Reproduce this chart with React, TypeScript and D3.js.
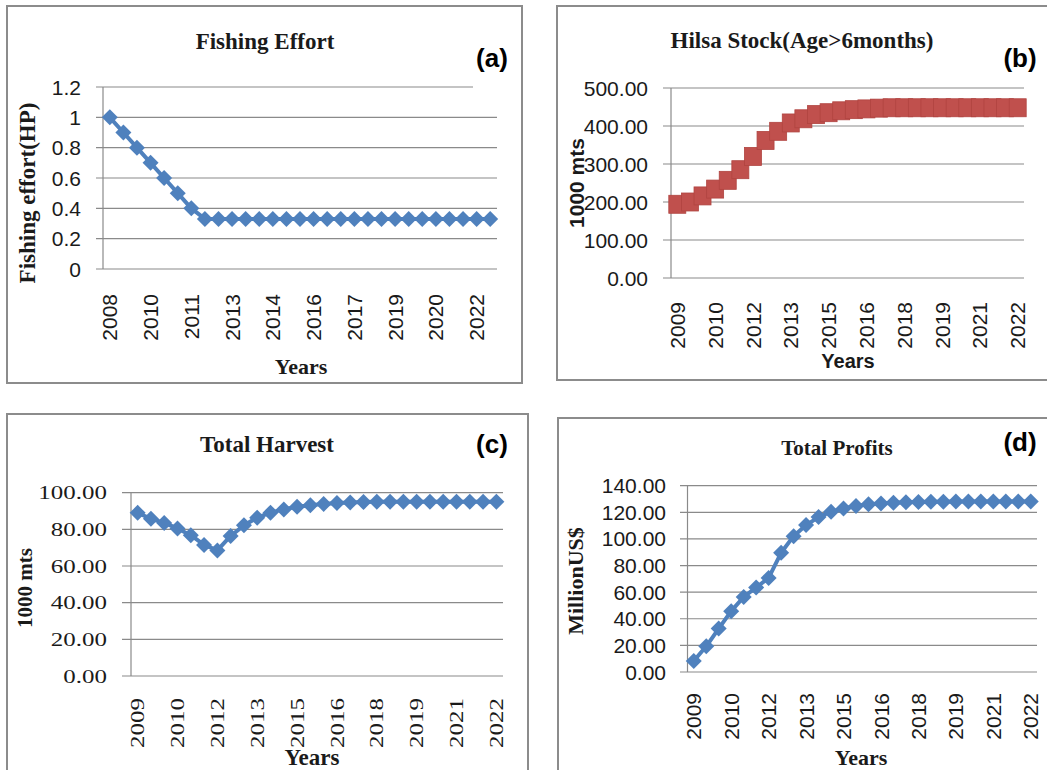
import React from 'react';
import * as d3 from 'd3';

// ---------- DATA ----------
const yearsA = [2008, 2008.5, 2009, 2009.5, 2010, 2010.5, 2011, 2011.5, 2012, 2012.5, 2013, 2013.5, 2014, 2014.5, 2015, 2015.5, 2016, 2016.5, 2017, 2017.5, 2018, 2018.5, 2019, 2019.5, 2020, 2020.5, 2021, 2021.5, 2022];
const fishingEffort = [1, 0.9, 0.8, 0.7, 0.6, 0.5, 0.4, 0.33, 0.33, 0.33, 0.33, 0.33, 0.33, 0.33, 0.33, 0.33, 0.33, 0.33, 0.33, 0.33, 0.33, 0.33, 0.33, 0.33, 0.33, 0.33, 0.33, 0.33, 0.33];
const xTickLabelsA = ['2008', '2010', '2011', '2013', '2014', '2016', '2017', '2019', '2020', '2022'];
const yTicksA = [0, 0.2, 0.4, 0.6, 0.8, 1, 1.2];
const yTickLabelsA = ['0', '0.2', '0.4', '0.6', '0.8', '1', '1.2'];

const yearsBCD = [2008.5, 2009, 2009.5, 2010, 2010.5, 2011, 2011.5, 2012, 2012.5, 2013, 2013.5, 2014, 2014.5, 2015, 2015.5, 2016, 2016.5, 2017, 2017.5, 2018, 2018.5, 2019, 2019.5, 2020, 2020.5, 2021, 2021.5, 2022];
const xTickLabelsBCD = ['2009', '2010', '2012', '2013', '2015', '2016', '2018', '2019', '2021', '2022'];

const hilsaStock = [194, 200, 216, 234, 257, 285, 320, 362, 386, 408, 419, 430, 435, 440, 443, 445, 447, 448, 448, 448, 448, 448, 448, 448, 448, 448, 448, 448];
const yTicksB = [0, 100, 200, 300, 400, 500];

const totalHarvest = [89, 85.8, 83.5, 80.5, 76.8, 71.5, 68.5, 76.4, 82.2, 86.4, 89.1, 90.9, 92.3, 93.2, 93.9, 94.4, 94.7, 94.9, 95, 95, 95.1, 95.1, 95.1, 95.1, 95.1, 95.1, 95.1, 95.1];
const yTicksC = [0, 20, 40, 60, 80, 100];

const totalProfits = [8.3, 19.3, 32.6, 45.7, 56.4, 63.5, 70.7, 89.6, 102.1, 110.4, 116.4, 120.4, 122.9, 124.7, 126, 126.7, 127.2, 127.6, 127.8, 128, 128, 128.1, 128.1, 128.1, 128.2, 128.2, 128.2, 128.2];
const yTicksD = [0, 20, 40, 60, 80, 100, 120, 140];

// ---------- STYLE ----------
const SERIF = "'Liberation Serif', 'Times New Roman', serif";
const SANS = "'Liberation Sans', Arial, sans-serif";
const GRID = '#8a8a8a';
const BORDER = '#8c8c8c';
const BLUE = '#4F81BD';
const RED = '#C0504D';
const TXT = '#1a1a1a';

type PanelProps = {
  cats: number[];
  values: number[];
  xTickLabels: string[];
  yTicks: number[];
  yLabels: string[];
  yDomain: [number, number];
  left: number; right: number; top: number; bottom: number;
  gridStart: number;
  yLabelX: number;
  xLabelY: number;
  tickFont: 'sans' | 'stretchSerif';
  marker: 'diamond' | 'square';
  color: string;
};

function Panel(p: PanelProps) {
  const x = d3.scalePoint<number>().domain(p.cats).range([p.left, p.right]).padding(0.5);
  const y = d3.scaleLinear().domain(p.yDomain).range([p.bottom, p.top]);
  const line = d3.line<number>().x((_, i) => x(p.cats[i]) as number).y((d) => y(d));
  const isSerif = p.tickFont === 'stretchSerif';
  const fontFamily = isSerif ? SERIF : SANS;
  const fontSize = isSerif ? 18.5 : 21;
  const sx = isSerif ? 1.35 : 1;
  return (
    <g>
      {p.yTicks.map((t, i) => (
        <line key={'g' + i} x1={p.gridStart} x2={p.right} y1={y(t)} y2={y(t)} stroke={GRID} strokeWidth={1.2} />
      ))}
      <line x1={p.left} x2={p.left} y1={y(p.yDomain[1])} y2={y(0)} stroke={GRID} strokeWidth={1.2} />
      {p.yTicks.map((t, i) => (
        <text key={'yl' + i} transform={`translate(${p.yLabelX},${y(t)}) scale(${sx},1)`} dy="0.36em" textAnchor="end"
          fontFamily={fontFamily} fontSize={fontSize} fill={TXT}>{p.yLabels[i]}</text>
      ))}
      {p.xTickLabels.map((lab, k) => (
        <text key={'xl' + k} transform={`translate(${x(p.cats[k * 3])},${p.xLabelY}) rotate(-90) scale(${sx},1)`} dy="0.36em" textAnchor="end"
          fontFamily={fontFamily} fontSize={fontSize} fill={TXT}>{lab}</text>
      ))}
      <path d={line(p.values) || ''} fill="none" stroke={p.color} strokeWidth={4} strokeLinejoin="round" />
      {p.values.map((v, i) => {
        const cx = x(p.cats[i]) as number;
        const cy = y(v);
        if (p.marker === 'square') {
          return <rect key={'m' + i} x={cx - 8.5} y={cy - 9} width={17} height={18} fill={p.color} stroke="#b04440" strokeWidth={0.8} />;
        }
        const r = 8;
        return <path key={'m' + i} d={`M${cx},${cy - r}L${cx + r},${cy}L${cx},${cy + r}L${cx - r},${cy}Z`} fill={p.color} />;
      })}
    </g>
  );
}

export default function App() {
  const fmt2 = (v: number) => v.toFixed(2);
  return (
    <svg width={1047} height={770} style={{ position: 'absolute', left: 0, top: 0, background: '#fff' }}>
      <rect x={0} y={0} width={1047} height={770} fill="#fff" />
      {/* Panel frames */}
      <rect x={7} y={6} width={515} height={377} fill="none" stroke={BORDER} strokeWidth={2} />
      <rect x={557} y={6} width={520} height={374} fill="none" stroke={BORDER} strokeWidth={2} />
      <rect x={7} y={414} width={521} height={380} fill="none" stroke={BORDER} strokeWidth={2} />
      <rect x={558} y={418} width={520} height={380} fill="none" stroke={BORDER} strokeWidth={2} />

      {/* (a) Fishing Effort */}
      <Panel cats={yearsA} values={fishingEffort} xTickLabels={xTickLabelsA} yTicks={yTicksA} yLabels={yTickLabelsA}
        yDomain={[0, 1.2]} left={103} right={497} top={87} bottom={269} gridStart={96} yLabelX={81} xLabelY={294}
        tickFont="sans" marker="diamond" color={BLUE} />
      <rect x={473} y={40} width={40} height={52} fill="#fff" />
      <text x={265} y={49} textAnchor="middle" fontFamily={SERIF} fontWeight="bold" fontSize={23} fill={TXT}>Fishing Effort</text>
      <text x={492} y={67} textAnchor="middle" fontFamily={SANS} fontWeight="bold" fontSize={26} fill="#000">(a)</text>
      <text transform="translate(27,193) rotate(-90)" dy="0.35em" textAnchor="middle" fontFamily={SERIF} fontWeight="bold" fontSize={23} fill={TXT}>Fishing effort(HP)</text>
      <text x={301} y={374} textAnchor="middle" fontFamily={SERIF} fontWeight="bold" fontSize={22} fill={TXT}>Years</text>

      {/* (b) Hilsa Stock */}
      <Panel cats={yearsBCD} values={hilsaStock} xTickLabels={xTickLabelsBCD} yTicks={yTicksB} yLabels={yTicksB.map(fmt2)}
        yDomain={[0, 500]} left={671} right={1024} top={88} bottom={278} gridStart={663} yLabelX={648} xLabelY={302}
        tickFont="sans" marker="square" color={RED} />
      <text x={802} y={48} textAnchor="middle" fontFamily={SERIF} fontWeight="bold" fontSize={23} fill={TXT}>Hilsa Stock(Age&gt;6months)</text>
      <text x={1020} y={67} textAnchor="middle" fontFamily={SANS} fontWeight="bold" fontSize={26} fill="#000">(b)</text>
      <text transform="translate(577,183) rotate(-90)" dy="0.35em" textAnchor="middle" fontFamily={SANS} fontWeight="bold" fontSize={21} fill={TXT}>1000 mts</text>
      <text x={848} y={368} textAnchor="middle" fontFamily={SANS} fontWeight="bold" fontSize={20} fill={TXT}>Years</text>

      {/* (c) Total Harvest */}
      <Panel cats={yearsBCD} values={totalHarvest} xTickLabels={xTickLabelsBCD} yTicks={yTicksC} yLabels={yTicksC.map(fmt2)}
        yDomain={[0, 100]} left={131} right={503} top={492.7} bottom={676} gridStart={122} yLabelX={107} xLabelY={698}
        tickFont="stretchSerif" marker="diamond" color={BLUE} />
      <text x={267} y={452} textAnchor="middle" fontFamily={SERIF} fontWeight="bold" fontSize={23} fill={TXT}>Total Harvest</text>
      <text x={492} y={453} textAnchor="middle" fontFamily={SANS} fontWeight="bold" fontSize={26} fill="#000">(c)</text>
      <text transform="translate(25,588) rotate(-90)" dy="0.35em" textAnchor="middle" fontFamily={SERIF} fontWeight="bold" fontSize={21} fill={TXT}>1000 mts</text>
      <text x={312} y={765} textAnchor="middle" fontFamily={SERIF} fontWeight="bold" fontSize={23} fill={TXT}>Years</text>

      {/* (d) Total Profits */}
      <Panel cats={yearsBCD} values={totalProfits} xTickLabels={xTickLabelsBCD} yTicks={yTicksD} yLabels={yTicksD.map(fmt2)}
        yDomain={[0, 140]} left={687.5} right={1037} top={485.7} bottom={672} gridStart={680} yLabelX={666} xLabelY={693}
        tickFont="sans" marker="diamond" color={BLUE} />
      <text x={837} y={455} textAnchor="middle" fontFamily={SERIF} fontWeight="bold" fontSize={21} fill={TXT}>Total Profits</text>
      <text x={1020} y={451} textAnchor="middle" fontFamily={SANS} fontWeight="bold" fontSize={26} fill="#000">(d)</text>
      <text transform="translate(575,581) rotate(-90)" dy="0.35em" textAnchor="middle" fontFamily={SERIF} fontWeight="bold" fontSize={22} fill={TXT}>MillionUS$</text>
      <text x={861} y={765} textAnchor="middle" fontFamily={SERIF} fontWeight="bold" fontSize={22} fill={TXT}>Years</text>
    </svg>
  );
}
